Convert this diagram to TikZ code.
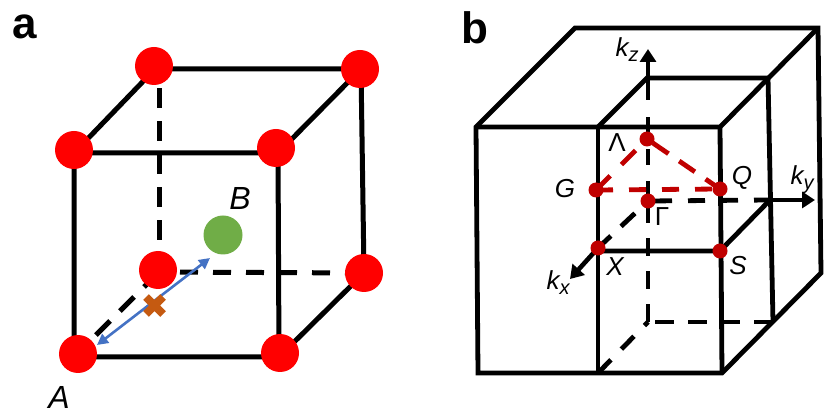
\documentclass[tikz,border=0pt]{standalone}
\usepackage{fontspec}
\setmainfont{Liberation Sans}
\usetikzlibrary{arrows.meta,backgrounds}
\definecolor{atomred}{HTML}{FF0000}
\definecolor{atomgreen}{HTML}{70AD47}
\definecolor{pointred}{HTML}{C00000}
\definecolor{pathblue}{HTML}{4472C4}
\definecolor{crossorange}{HTML}{C55A11}
\newcommand{\ksub}[1]{{\itshape k\raisebox{-5pt}{\fontsize{20}{20}\selectfont #1}}}
\tikzset{
  atom/.style={circle,fill=atomred,inner sep=0pt,minimum size=38pt},
  kpoint/.style={circle,fill=pointred,inner sep=0pt,minimum size=15pt},
  edge/.style={line width=5pt,line join=miter},
  thinedge/.style={line width=4.8pt,line join=miter},
  redpath/.style={line width=4.8pt,pointred},
  panel/.style={font=\fontsize{44}{44}\selectfont\bfseries,inner sep=0pt},
  lbl/.style={font=\fontsize{26}{26}\selectfont,inner sep=0pt},
  bigital/.style={font=\fontsize{32}{32}\selectfont\itshape,inner sep=0pt},
  axis/.style={line width=4.6pt,-{Triangle[length=13pt,width=16pt]}},
}
\begin{document}
\begin{tikzpicture}[x=1pt,y=-1pt]
    \useasboundingbox (0,0) rectangle (830,419);

    % Panel a: cubic cell
    \node[atom] (a1) at (154,66) {};
    \node[atom] (a2) at (360,69) {};
    \node[atom] (a3) at (74,150) {};
    \node[atom] (a4) at (276,148) {};
    \node[atom] (a5) at (158,270) {};
    \node[atom] (a6) at (364,273) {};
    \node[atom] (a7) at (78,354) {};
    \node[atom] (a8) at (280,353) {};
    \node[circle,fill=atomgreen,inner sep=0pt,minimum size=39pt] (a9) at (223,235) {};
    \coordinate (f1) at (74,153);
    \coordinate (f2) at (278,153);
    \coordinate (f3) at (279,357);
    \coordinate (f4) at (74,357);
    \coordinate (g1) at (155,69);
    \coordinate (g2) at (361,69);
    \coordinate (g3) at (364,273);
    \coordinate (g4) at (159,272);
    \coordinate (g5) at (159,69);
    \begin{scope}[on background layer]
        \draw[edge] (f1) -- (f2) -- (f3) -- (f4) -- cycle;
        \draw[edge] (f1) -- (g1) -- (g2) -- (f2);
        \draw[edge] (g2) -- (g3) -- (f3);
        \draw[edge,dash pattern=on 20pt off 13pt,dash phase=1pt] (g4) -- (g5);
        \draw[edge,dash pattern=on 18pt off 15pt,dash phase=12pt] (g4) -- (g3);
        \draw[edge,dash pattern=on 20pt off 14pt,dash phase=3pt] (f4) -- (g4);
    \end{scope}

    \coordinate (e1) at (97,345);
    \coordinate (e2) at (210,258);
    \draw[line width=2.6pt,pathblue,{Triangle[length=11pt,width=11pt]}-{Triangle[length=11pt,width=11pt]}] (e1) -- (e2);
    \draw[line width=8pt,crossorange] (146,297) -- (163,314) (163,297) -- (146,314);

    \node[bigital] (la) at (59,397) {A};
    \node[bigital] (lb) at (240,198) {B};
    \node[panel] (pa) at (25,27) {a};
    \node[panel] (pb) at (475,28) {b};

    % Panel b: Brillouin zone
    \node[kpoint] (lam) at (647,139) {};
    \node[kpoint] (gg) at (596,190) {};
    \node[kpoint] (qq) at (720,189) {};
    \node[kpoint] (gam) at (648,201) {};
    \node[kpoint] (xx) at (598,248) {};
    \node[kpoint] (ss) at (720,251) {};
    \coordinate (b1) at (476,127);
    \coordinate (b2) at (575,28);
    \coordinate (b3) at (818,28);
    \coordinate (b4) at (821,273);
    \coordinate (b5) at (722,373);
    \coordinate (b6) at (478,373);
    \coordinate (c1) at (598,127);
    \coordinate (c2) at (647,78);
    \coordinate (c3) at (768,78);
    \coordinate (c4) at (720,127);
    \coordinate (c5) at (773,322);
    \coordinate (c6) at (598,373);
    \coordinate (c7) at (648,322);
    \coordinate (c8) at (770,200);
    \coordinate (c9) at (648,100);
    \coordinate (c10) at (648,116);
    \coordinate (c11) at (598,251);
    \coordinate (tz) at (648,49);
    \coordinate (ty) at (815,200);
    \coordinate (tx) at (570,279);
    \begin{scope}[on background layer]
        \draw[thinedge] (b1) -- (b2) -- (b3) -- (b4) -- (b5) -- (b6) -- cycle;
        \draw[thinedge] (b1) -- (c4) -- (b3);
        \draw[thinedge] (c1) -- (c2) -- (c3) -- (c5);
        \draw[thinedge] (c1) -- (c6);
        \draw[thinedge] (c4) -- (b5);
        \draw[thinedge] (c11) -- (ss.center) -- (c8);
        % dashed axes and hidden edges
        \draw[thinedge,dash pattern=on 19pt off 14pt,dash phase=26pt] (c7) -- (c5);
        \draw[thinedge,dash pattern=on 18pt off 15pt,dash phase=13pt] (c7) -- (c6);
        \draw[thinedge,dash pattern=on 18pt off 15pt] (c7) -- (gam.center);
        \draw[thinedge,dash pattern=on 16pt off 16pt,dash phase=28pt] (gam.center) -- (c10);
        \draw[axis] (c9) -- (tz);
        \draw[thinedge,dash pattern=on 17pt off 16pt,dash phase=26pt] (gam.center) -- (c8);
        \draw[axis] (c8) -- (ty);
        \draw[thinedge,dash pattern=on 19pt off 14pt,dash phase=15pt] (gam.center) -- (xx.center);
        \draw[axis] (xx.center) -- (tx);
        \draw[redpath,dash pattern=on 20pt off 16pt] (gg.center) -- (lam.center);
        \draw[redpath,dash pattern=on 19pt off 13pt,dash phase=25pt] (lam.center) -- (qq.center);
        \draw[redpath,dash pattern=on 17pt off 16pt] (gg.center) -- (qq.center);
    \end{scope}

    \node[lbl] (llam) at (617,143) {Λ};
    \node[lbl] (lg) at (565,189) {\itshape G};
    \node[lbl] (lq) at (742,178) {\itshape Q};
    \node[lbl] (lgam) at (662,217) {Γ};
    \node[lbl] (lx) at (615,267) {\itshape X};
    \node[lbl] (ls) at (738,266) {\itshape S};
    \node[lbl] (lkz) at (627,50) {\ksub{z}};
    \node[lbl] (lky) at (802,180) {\ksub{y}};
    \node[lbl] (lkx) at (558,283) {\ksub{x}};
\end{tikzpicture}
\end{document}
